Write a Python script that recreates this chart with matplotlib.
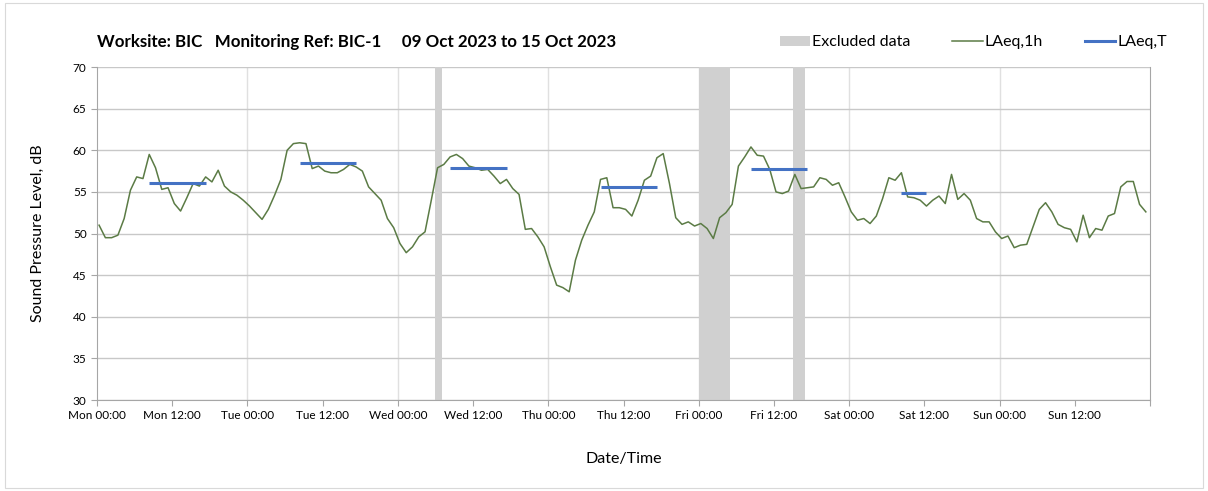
import matplotlib
matplotlib.use("Agg")
import matplotlib.pyplot as plt
from matplotlib.patches import Patch, Rectangle
from matplotlib.lines import Line2D
import numpy as np
import pandas as pd

plt.rcParams['font.family'] = ['Lato', 'DejaVu Sans']

# hourly LAeq,1h values, Mon 09 Oct 2023 00:00 to Sun 15 Oct 2023 23:00
laeq_1h = [
    51.0, 49.5, 49.5, 49.8, 51.8, 55.2, 56.8, 56.6, 59.5, 57.9,
    55.3, 55.5, 53.6, 52.7, 54.3, 56.0, 55.7, 56.8, 56.2, 57.6,
    55.7, 55.0, 54.6, 54.0, 53.3, 52.5, 51.7, 52.9, 54.6, 56.5,
    60.0, 60.8, 60.9, 60.8, 57.8, 58.1, 57.5, 57.3, 57.3, 57.7,
    58.3, 58.0, 57.5, 55.6, 54.8, 54.0, 51.8, 50.7, 48.8, 47.7,
    48.4, 49.6, 50.2, 54.0, 57.9, 58.3, 59.2, 59.5, 59.0, 58.1,
    57.9, 57.6, 57.7, 56.9, 56.0, 56.5, 55.4, 54.7, 50.5, 50.6,
    49.6, 48.4, 46.0, 43.8, 43.5, 43.0, 46.8, 49.2, 51.0, 52.6,
    56.5, 56.7, 53.1, 53.1, 52.9, 52.1, 54.0, 56.4, 56.9, 59.1,
    59.6, 56.0, 51.9, 51.1, 51.4, 50.9, 51.2, 50.6, 49.4, 51.9,
    52.5, 53.5, 58.1, 59.2, 60.4, 59.4, 59.3, 57.7, 55.0, 54.8,
    55.1, 57.1, 55.4, 55.5, 55.6, 56.7, 56.5, 55.8, 56.1, 54.4,
    52.6, 51.6, 51.8, 51.2, 52.1, 54.2, 56.7, 56.4, 57.3, 54.4,
    54.3, 54.0, 53.3, 54.0, 54.5, 53.6, 57.1, 54.1, 54.8, 54.0,
    51.8, 51.4, 51.4, 50.2, 49.4, 49.7, 48.3, 48.6, 48.7, 50.8,
    52.9, 53.7, 52.6, 51.1, 50.7, 50.5, 49.0, 52.2, 49.5, 50.6,
    50.4, 52.1, 52.4, 55.6, 56.25, 56.25, 53.5, 52.6,
]
times = pd.date_range('2023-10-09 00:20', periods=len(laeq_1h), freq='h')

# LAeq,T over working-hour periods
period_start = ['2023-10-09 08:00', '2023-10-10 08:00', '2023-10-11 08:00',
                '2023-10-12 08:00', '2023-10-13 08:00', '2023-10-14 08:00']
period_end = ['2023-10-09 18:00', '2023-10-10 18:00', '2023-10-11 18:00',
              '2023-10-12 18:00', '2023-10-13 18:00', '2023-10-14 13:00']
laeq_T = [56.1, 58.5, 57.9, 55.6, 57.7, 54.85]

# excluded periods
excl_start = ['2023-10-11 06:00', '2023-10-13 00:00', '2023-10-13 15:00']
excl_end = ['2023-10-11 07:00', '2023-10-13 05:00', '2023-10-13 17:00']

green = '#5B7B45'
blue = '#4472C4'
grey = '#D0D0D0'

fig = plt.figure(figsize=(12.08, 4.91), dpi=100)
ax = fig.add_axes([0.0803, 0.1853, 0.8717, 0.6782])

fig.patches.append(Rectangle((0.004, 0.006), 0.992, 0.988, transform=fig.transFigure,
                             fill=False, edgecolor='#D9D9D9', lw=0.8))

for s, e in zip(excl_start, excl_end):
    ax.axvspan(pd.Timestamp(s), pd.Timestamp(e), color=grey, lw=0, zorder=1)

ax.plot(times, laeq_1h, color=green, lw=1.1, zorder=3)

for s, e, v in zip(period_start, period_end, laeq_T):
    m = (times >= pd.Timestamp(s)) & (times < pd.Timestamp(e))
    ax.hlines(v, times[m][0], times[m][-1], color=blue, lw=2.2, zorder=4)

ax.set_ylim(30, 70)
ax.set_yticks(np.arange(30, 71, 5))
x_end = pd.Timestamp('2023-10-16 00:00')
ax.set_xlim(pd.Timestamp('2023-10-09 00:00'), x_end)
ticks = pd.date_range('2023-10-09', x_end, freq='12h')
ax.set_xticks(ticks)
ax.set_xticklabels([t.strftime('%a %H:%M') for t in ticks[:-1]] + [''])

ax.grid(axis='y', color='#C8C8C8', lw=1.0, zorder=0)
for d in pd.date_range('2023-10-10', periods=6, freq='D'):
    ax.axvline(d, color='#E0E0E0', lw=1.0, zorder=0)
ax.set_axisbelow(True)

for side in ['left', 'bottom', 'right']:
    ax.spines[side].set_color('#A6A6A6')
ax.spines['top'].set_visible(False)
ax.tick_params(axis='both', labelsize=8.5, colors='#A6A6A6', labelcolor='#000000',
               length=4, width=0.8)

ax.set_ylabel('Sound Pressure Level, dB', fontsize=11.5, labelpad=20)
ax.set_xlabel('Date/Time', fontsize=11.5, labelpad=22)

fig.text(0.0803, 0.915, 'Worksite: BIC   Monitoring Ref: BIC-1     09 Oct 2023 to 15 Oct 2023',
         fontsize=12.2, fontweight='bold', va='center')

handles = [Patch(facecolor=grey, edgecolor='none'),
           Line2D([], [], color=green, lw=1.1),
           Line2D([], [], color=blue, lw=2.2)]
fig.legend(handles, ['Excluded data', 'LAeq,1h', 'LAeq,T'], ncol=3, frameon=False,
           loc='center right', bbox_to_anchor=(0.978, 0.914), fontsize=11.5,
           handlelength=1.9, handleheight=0.6, handletextpad=0.15, columnspacing=2.6)

fig.savefig('out.png', dpi=100)
